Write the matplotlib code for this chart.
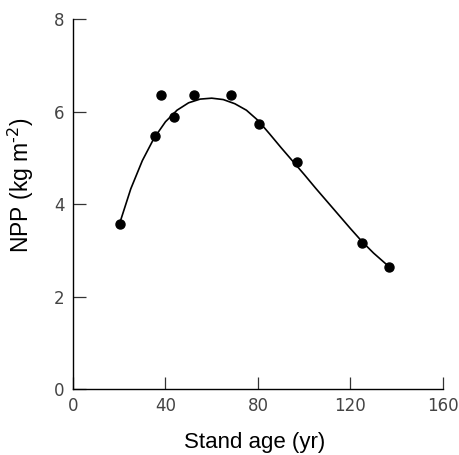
import matplotlib
matplotlib.use("Agg")
import matplotlib.pyplot as plt

plt.rcParams["axes.unicode_minus"] = False

age = [20.3, 35.5, 37.9, 43.5, 52.5, 68.5, 80.3, 97.0, 124.8, 136.8]
npp = [3.57, 5.48, 6.36, 5.89, 6.36, 6.36, 5.74, 4.90, 3.16, 2.64]

# Fitted curve, sampled along the drawn line
fit_age = [20.3, 25, 30, 35, 40, 45, 50, 55, 60, 65, 70, 75, 80, 85, 90,
           95, 100, 105, 110, 115, 120, 125, 130, 135, 136.8]
fit_npp = [3.60, 4.33, 4.94, 5.42, 5.78, 6.03, 6.19, 6.27, 6.29, 6.26, 6.17,
           6.03, 5.81, 5.52, 5.22, 4.93, 4.64, 4.34, 4.05, 3.76, 3.47, 3.19,
           2.94, 2.72, 2.65]

x_ticks = [0, 40, 80, 120, 160]
y_ticks = [0, 2, 4, 6, 8]

fig = plt.figure(figsize=(4.59, 4.55), dpi=100)
ax = fig.add_axes([0.159, 0.145, 0.806, 0.813])

ax.plot(fit_age, fit_npp, color="black", linewidth=1.2)
ax.plot(age, npp, "o", color="black", markersize=6.5)

ax.set_xlim(0, 160)
ax.set_ylim(0, 8)
ax.set_xticks(x_ticks)
ax.set_yticks(y_ticks)

tick_font = ["Liberation Sans Narrow", "DejaVu Sans"]
ax.set_xticklabels([str(t) for t in x_ticks], family=tick_font, fontsize=12,
                   color="#444444")
ax.set_yticklabels([str(t) for t in y_ticks], family=tick_font, fontsize=12,
                   color="#444444")
ax.tick_params(direction="in", length=9, width=0.9, color="#333333", pad=6)

for side in ["top", "right"]:
    ax.spines[side].set_visible(False)
for side in ["left", "bottom"]:
    ax.spines[side].set_linewidth(1.0)

ax.set_xlabel("Stand age (yr)", family="Liberation Sans", fontsize=16)
ax.set_ylabel(r"NPP (kg m$^{\text{-2}}$)", family="Liberation Sans",
              fontsize=16.5)
ax.xaxis.set_label_coords(0.49, -0.115)
ax.yaxis.set_label_coords(-0.10, 0.55)

fig.savefig("out.png", dpi=100)
